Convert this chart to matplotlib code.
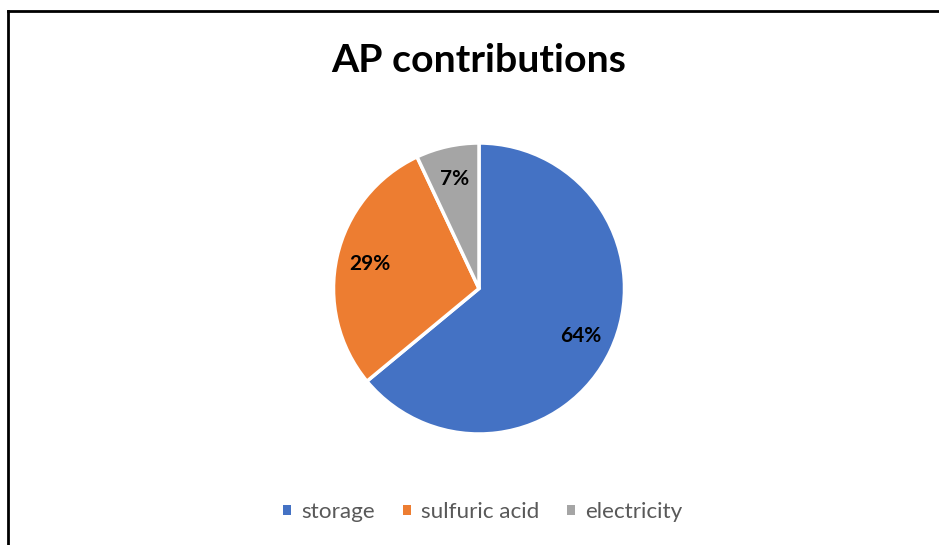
import matplotlib
matplotlib.use("Agg")
import matplotlib.pyplot as plt
from matplotlib.lines import Line2D
from matplotlib.patches import Patch

categories = ["storage", "sulfuric acid", "electricity"]
shares = [64, 29, 7]
colors = ["#4472C4", "#ED7D31", "#A5A5A5"]
title = "AP contributions"

W, H = 939, 545
fig = plt.figure(figsize=(W / 100, H / 100), dpi=100)
ax = fig.add_axes([0, 0, 1, 1])

cx, cy, r = 479, H - 288.5, 145.5
wedges, texts, autotexts = ax.pie(
    shares, colors=colors, startangle=90, counterclock=False,
    center=(cx, cy), radius=r, frame=True,
    autopct="%1.0f%%", pctdistance=0.77,
    wedgeprops=dict(edgecolor="white", linewidth=2.5),
    textprops=dict(fontsize=15, fontweight="bold", color="black", family="Lato"),
)
ax.set_xlim(0, W)
ax.set_ylim(0, H)
ax.set_aspect("equal")
ax.axis("off")

ax.text(cx, H - 60, title, ha="center", va="center", fontsize=28.3,
        fontweight="bold", family="Lato", color="black")

handles = [Patch(facecolor=c, edgecolor="none") for c in colors]
leg = fig.legend(handles, categories, loc="center", bbox_to_anchor=(483 / W, 1 - 512 / H),
                 ncol=3, frameon=False, handlelength=0.35, handleheight=0.35,
                 handletextpad=0.45, columnspacing=1.25,
                 prop=dict(family="Lato", size=16.2))
for t in leg.get_texts():
    t.set_color("#595959")

# chart area border (left and top edges visible)
fig.add_artist(Line2D([8 / W, 8 / W], [0, 1 - 10.5 / H], color="black", lw=2,
                      transform=fig.transFigure, solid_capstyle="projecting"))
fig.add_artist(Line2D([8 / W, 1], [1 - 10.5 / H, 1 - 10.5 / H], color="black", lw=2,
                      transform=fig.transFigure, solid_capstyle="projecting"))

fig.savefig("out.png", dpi=100, facecolor="white")
